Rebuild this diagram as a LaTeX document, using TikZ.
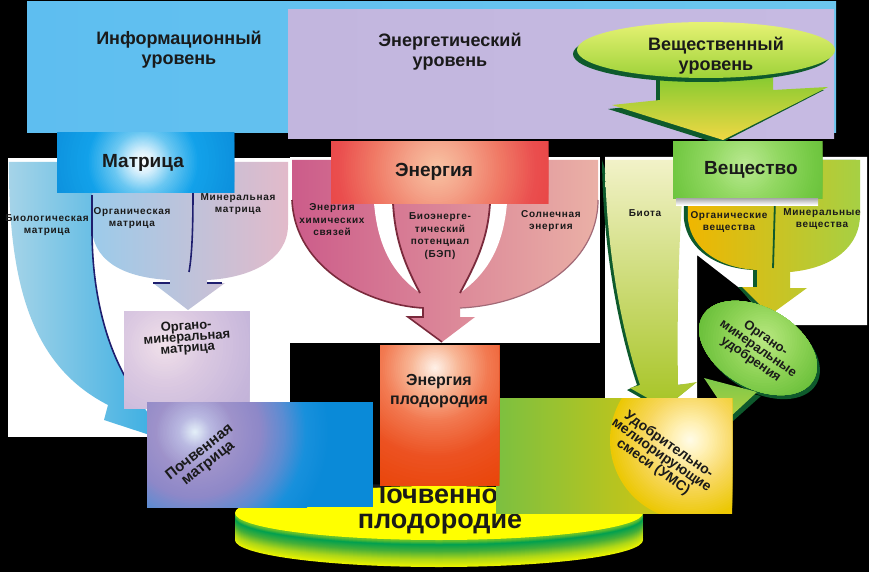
\documentclass[tikz,border=0pt]{standalone}
\usepackage{fontspec}
\setmainfont{Liberation Sans}
\newfontfamily\spacedfont{Liberation Sans}[LetterSpace=7]
\newcommand\fsz[2]{\fontsize{#1}{#2}\selectfont}

\definecolor{topA}{HTML}{5EBEF0}\definecolor{topB}{HTML}{94D4DA}\definecolor{topC}{HTML}{6CC6EE}
\definecolor{purA}{HTML}{C2B6DE}\definecolor{purB}{HTML}{DEC6DC}\definecolor{purC}{HTML}{C6BAE2}
\definecolor{dkg}{HTML}{0E5A2C}
\definecolor{garrA}{HTML}{84CA30}\definecolor{garrB}{HTML}{F0D844}
\definecolor{gellA}{HTML}{E6F274}\definecolor{gellB}{HTML}{9ED238}
\definecolor{navy}{HTML}{1E1E6E}
\definecolor{mbL}{HTML}{9CCBEA}\definecolor{mbM}{HTML}{B4B8E2}\definecolor{mbR}{HTML}{E2BACA}
\definecolor{armL}{HTML}{A6D4E8}\definecolor{armR}{HTML}{34ACE2}
\definecolor{enL}{HTML}{CC5C8A}\definecolor{enM}{HTML}{E3A09A}\definecolor{enR}{HTML}{EAB0A6}
\definecolor{maroon}{HTML}{7A2A3C}
\definecolor{sbL}{HTML}{F0B600}\definecolor{sbM}{HTML}{D4C60C}\definecolor{sbR}{HTML}{A6D044}
\definecolor{biA}{HTML}{F2F2C8}\definecolor{biB}{HTML}{C8C41E}\definecolor{biC}{HTML}{A6C424}
\definecolor{txt}{HTML}{1A1A1A}
\definecolor{mg1}{HTML}{D8F0FC}\definecolor{mg2}{HTML}{6CC8F2}\definecolor{mg3}{HTML}{12A2EA}\definecolor{mg4}{HTML}{0A8AD8}
\definecolor{eg0}{HTML}{F8C4A4}\definecolor{eg1}{HTML}{F4A48A}\definecolor{eg2}{HTML}{F07A66}\definecolor{eg3}{HTML}{EA4E4E}\definecolor{eg4}{HTML}{E84444}
\definecolor{vg0}{HTML}{BCEA94}\definecolor{vg1}{HTML}{92D862}\definecolor{vg2}{HTML}{72C842}\definecolor{vg3}{HTML}{68BE3A}
\definecolor{og0}{HTML}{F2E2EA}\definecolor{og1}{HTML}{DCCAE2}\definecolor{og2}{HTML}{C6B6DA}\definecolor{og3}{HTML}{BAACD6}
\definecolor{ep0}{HTML}{FFF4EC}\definecolor{ep1}{HTML}{F8B898}\definecolor{ep2}{HTML}{F27A52}\definecolor{ep3}{HTML}{EC5222}\definecolor{ep4}{HTML}{E84000}
\definecolor{pm0}{HTML}{E6F2FA}\definecolor{pm1}{HTML}{BABAE2}\definecolor{pm2}{HTML}{9E92CA}\definecolor{pm3}{HTML}{8E88C8}\definecolor{pm4}{HTML}{5C8CD2}\definecolor{pm5}{HTML}{1890DC}\definecolor{pm6}{HTML}{0A8AD8}
\definecolor{ug0}{HTML}{FFFCEA}\definecolor{ug1}{HTML}{FFF0B2}\definecolor{ug2}{HTML}{F8D862}\definecolor{ug3}{HTML}{ECC804}
\definecolor{umL}{HTML}{7CC040}\definecolor{umM}{HTML}{DCC80C}\definecolor{umR}{HTML}{F0C800}
\definecolor{bg0}{HTML}{BCEA84}\definecolor{bg1}{HTML}{8CD254}\definecolor{bg2}{HTML}{5CB830}
\definecolor{tailA}{HTML}{7CC84A}\definecolor{tailB}{HTML}{B0D040}
\definecolor{dA}{HTML}{E8F200}\definecolor{dB}{HTML}{B0D818}\definecolor{dC}{HTML}{48B038}
\definecolor{dE}{HTML}{00A050}\definecolor{dF}{HTML}{70C428}
\definecolor{dTop}{HTML}{FFFF00}

% concentric discs from radius #3 (colour #5) down to radius #4 (colour #6), centre (#1,#2)
\newcommand\glowseg[6]{%
  \foreach \glwI in {0,...,15}{%
    \pgfmathsetmacro\glwR{#3-(#3-#4)*\glwI/16}%
    \pgfmathsetmacro\glwP{100*\glwI/16}%
    \fill[#6!\glwP!#5] (#1,#2) circle (\glwR);%
  }%
}
% bands of the fertility disc, offsets #1 down to #2, colours #3 -> #4
\newcommand\diskseg[4]{%
  \foreach \dkI in {0,...,7}{%
    \pgfmathsetmacro\dkO{#1-(#1-#2)*\dkI/8}%
    \pgfmathsetmacro\dkP{100*\dkI/8}%
    \fill[#4!\dkP!#3] (439,513+\dkO) ellipse [x radius=204, y radius=27];%
  }%
}

\tikzset{
  toplbl/.style={align=center, inner sep=0pt, text=txt, font=\bfseries\fsz{18}{20}},
  catlbl/.style={align=center, inner sep=0pt, text=txt, font=\bfseries\fsz{19}{22}},
  smlbl/.style={align=center, inner sep=0pt, text=txt, font=\spacedfont\bfseries\fsz{10}{12.5}},
  boxlbl/.style={align=center, inner sep=0pt, text=txt, font=\bfseries\fsz{14}{12}},
  baselbl/.style={align=center, inner sep=0pt, text=txt, font=\bfseries\fsz{27}{25}},
}

\begin{document}
\begin{tikzpicture}[x=1pt,y=-1pt]
\useasboundingbox (0,0) rectangle (869,572);
\fill[black] (0,0) rectangle (869,572);

% ---------- top level bars ----------
\shade[left color=topA, middle color=topB, right color=topC] (27,2) rectangle (836,133);
\shade[left color=purA, middle color=purB, right color=purC] (288,10) rectangle (834,139);

% green level arrow
\fill[dkg] (656,79) -- (656,104) -- (608,109) -- (719,144) -- (824,90) -- (769,94) -- (769,79) -- cycle;
\shade[top color=garrA, bottom color=garrB] (660,75) -- (660,100) -- (612,105) -- (723,140) -- (828,87) -- (773,90) -- (773,75) -- cycle;
\fill[dkg] (702,54) ellipse [x radius=129, y radius=28];
\shade[top color=gellA, bottom color=gellB] (706,50) ellipse [x radius=129, y radius=28];

\node[toplbl] (info) at (179,50) {Информационный\\уровень};
\node[toplbl] (energ) at (450,52) {Энергетический\\уровень};
\node[toplbl] (vesch) at (716,56) {Вещественный\\уровень};

% ---------- white grounds ----------
\fill[white] (8,158) rectangle (290,437);
\fill[white] (290,157) rectangle (600,343);
\fill[white] (605,157) -- (867,157) -- (867,325) -- (770,325) -- (742,290) -- (697,255) -- (697,400) -- (605,400) -- cycle;

% ---------- matrix fan ----------
\shade[left color=mbL, middle color=mbM, right color=mbR]
  (92,162) -- (92,230) .. controls (95,265) and (130,278) .. (170,280) -- (170,283) -- (153,283)
  -- (188,310) -- (225,283) -- (207,283) -- (207,280) .. controls (250,278) and (288,260) .. (288,225)
  -- (288,162) -- cycle;
\draw[navy, line width=1.6] (193,190) .. controls (193,230) and (192,255) .. (189,272);
\draw[navy, line width=1.6] (153,283) -- (170,283) (207,283) -- (222,283);
\shade[left color=armL, right color=armR]
  (9,162) .. controls (8,300) and (40,370) .. (108,405) -- (104,420) -- (165,440) -- (130,385)
  .. controls (105,345) and (92,290) .. (92,230) -- (92,162) -- cycle;
\draw[navy, line width=1.6] (92,195) -- (92,230) .. controls (92,290) and (105,345) .. (130,385);

% ---------- energy fan ----------
\shade[left color=enL, middle color=enM, right color=enR]
  (292,160) -- (292,200) .. controls (295,270) and (370,305) .. (423,308) -- (423,317) -- (408,317)
  -- (442,342) -- (475,317) -- (460,317) -- (460,308) .. controls (530,305) and (598,265) .. (598,200)
  -- (598,160) -- cycle;
\draw[maroon, line width=1.6] (292,200) .. controls (295,270) and (370,305) .. (423,308) -- (423,317) -- (408,317) -- (442,342);
\draw[maroon!70, line width=1.2] (460,308) .. controls (530,305) and (598,265) .. (598,200);
\fill[white] (374,203) .. controls (378,250) and (395,275) .. (420,293) .. controls (405,265) and (395,240) .. (393,203) -- cycle;
\draw[maroon, line width=1.8] (393,203) .. controls (395,240) and (405,265) .. (420,293);
\fill[white] (507,203) .. controls (503,250) and (485,275) .. (460,293) .. controls (475,265) and (488,240) .. (490,203) -- cycle;
\draw[maroon, line width=1.8] (490,203) .. controls (488,240) and (475,265) .. (460,293);

% ---------- substance fan ----------
\fill[dkg] (683,160) -- (684,220) .. controls (688,250) and (716,268) .. (753,270) -- (753,287) -- (738,287)
  -- (766,318) -- (803,288) -- (786,288) -- (786,272) .. controls (831,268) and (856,245) .. (856,215) -- (856,160) -- cycle;
\shade[left color=sbL, middle color=sbM, right color=sbR]
  (687,160) -- (688,220) .. controls (692,250) and (720,268) .. (757,270) -- (757,287) -- (742,287)
  -- (770,315) -- (807,288) -- (790,288) -- (790,272) .. controls (835,268) and (860,245) .. (860,215)
  -- (860,160) -- cycle;
\draw[dkg, line width=1.8] (775,200) -- (773,268);
\fill[dkg] (602,160) .. controls (603,260) and (622,340) .. (637,385) -- (627,390) -- (662,410) -- (694,384) -- (675,385) -- cycle;
\shade[top color=biA, middle color=biB, bottom color=biC]
  (605,160) .. controls (606,260) and (625,340) .. (640,385) -- (630,388) -- (665,408) -- (697,382)
  -- (678,385) .. controls (677,330) and (678,260) .. (682,200) -- (682,160) -- cycle;

% blob
\fill[dkg] (707,382) -- (733,421) -- (761,396) -- cycle;
\fill[dkg, rotate around={-30:(761,352)}] (761,352) ellipse [x radius=64, y radius=40];
\shade[top color=tailA, bottom color=tailB] (704,378) -- (730,417) -- (757,392) -- cycle;
\begin{scope}
  \clip[rotate around={-30:(758,348)}] (758,348) ellipse [x radius=64, y radius=40];
  \glowseg{764}{340}{80}{38}{bg2}{bg1}
  \glowseg{764}{340}{38}{0}{bg1}{bg0}
\end{scope}

% ---------- category boxes ----------
\begin{scope}
  \clip (57,133) rectangle (234,192);
  \fill[mg4] (57,133) rectangle (234,192);
  \glowseg{143}{162}{110}{56}{mg4}{mg3}
  \glowseg{143}{162}{56}{30}{mg3}{mg2}
  \glowseg{143}{162}{30}{12}{mg2}{mg1}
  \glowseg{143}{162}{12}{0}{mg1}{white}
\end{scope}
\node[catlbl] (matr) at (143,163) {Матрица};
\begin{scope}
  \clip (331,142) rectangle (548,203);
  \fill[eg4] (331,142) rectangle (548,203);
  \glowseg{437}{168}{125}{100}{eg4}{eg3}
  \glowseg{437}{168}{100}{64}{eg3}{eg2}
  \glowseg{437}{168}{64}{30}{eg2}{eg1}
  \glowseg{437}{168}{30}{0}{eg1}{eg0}
\end{scope}
\node[catlbl] (enrg) at (434,172) {Энергия};
\begin{scope}
  \clip (673,142) rectangle (822,198);
  \fill[vg3] (673,142) rectangle (822,198);
  \glowseg{745}{165}{90}{72}{vg3}{vg2}
  \glowseg{745}{165}{72}{36}{vg2}{vg1}
  \glowseg{745}{165}{36}{0}{vg1}{vg0}
\end{scope}
\shade[top color=gray!70, bottom color=white] (676,198) rectangle (818,205);
\node[catlbl] (vesh) at (751,170) {Вещество};

% ---------- small labels ----------
\node[smlbl] (bio) at (47,225) {Биологическая\\матрица};
\node[smlbl] (org) at (132,218) {Органическая\\матрица};
\node[smlbl] (min) at (238,204) {Минеральная\\матрица};
\node[smlbl] (chem) at (332,220) {Энергия\\химических\\связей};
\node[smlbl] (bep) at (440,236) {Биоэнерге-\\тический\\потенциал\\(БЭП)};
\node[smlbl] (sun) at (551,221) {Солнечная\\энергия};
\node[smlbl] (biota) at (645,213) {Биота};
\node[smlbl] (orgv) at (729,222) {Органические\\вещества};
\node[smlbl] (minv) at (822,219) {Минеральные\\вещества};

\node[boxlbl, font=\bfseries\fsz{13}{13}, rotate=-35] (omu) at (758,349) {Органо-\\минеральные\\удобрения};

% ---------- soil fertility disc ----------
\diskseg{27}{20}{dA}{dB}
\diskseg{20}{12}{dB}{dC}
\diskseg{12}{5}{dC}{dE}
\diskseg{5}{1}{dE}{dF}
\fill[dTop] (439,513) ellipse [x radius=204, y radius=27];
\node[baselbl] (plod) at (440,510) {Почвенное\\плодородие};

% ---------- lower boxes ----------
\begin{scope}
  \clip (124,311) rectangle (249,408);
  \fill[og3] (124,311) rectangle (249,408);
  \glowseg{165}{345}{130}{91}{og3}{og2}
  \glowseg{165}{345}{91}{39}{og2}{og1}
  \glowseg{165}{345}{39}{0}{og1}{og0}
\end{scope}
\node[boxlbl, font=\bfseries\fsz{13}{11}, rotate=4] (omm) at (187,338) {Органо-\\минеральная\\матрица};

\begin{scope}
  \clip (147,402) rectangle (373,507);
  \fill[pm6] (147,402) rectangle (373,507);
  \glowseg{195}{432}{135}{112}{pm6}{pm5}
  \glowseg{195}{432}{112}{90}{pm5}{pm4}
  \glowseg{195}{432}{90}{66}{pm4}{pm3}
  \glowseg{195}{432}{66}{40}{pm3}{pm2}
  \glowseg{195}{432}{40}{16}{pm2}{pm1}
  \glowseg{195}{432}{16}{0}{pm1}{pm0}
\end{scope}
\node[boxlbl, font=\bfseries\fsz{15}{14}, rotate=38] (pm) at (204,458) {Почвенная\\матрица};

\begin{scope}
  \clip (496,398) rectangle (732,513);
  \shade[left color=umL, middle color=umM, right color=umR] (496,398) rectangle (732,513);
  \glowseg{690}{440}{80}{45}{ug3}{ug2}
  \glowseg{690}{440}{45}{19}{ug2}{ug1}
  \glowseg{690}{440}{19}{0}{ug1}{ug0}
\end{scope}
\node[boxlbl, font=\bfseries\fsz{14}{13}, rotate=-35] (ums) at (661,456) {Удобрительно-\\мелиорирующие\\смеси (УМС)};

\begin{scope}
  \clip (380,345) rectangle (499,485);
  \fill[ep4] (380,345) rectangle (499,485);
  \glowseg{435}{368}{150}{90}{ep4}{ep3}
  \glowseg{435}{368}{90}{54}{ep3}{ep2}
  \glowseg{435}{368}{54}{24}{ep2}{ep1}
  \glowseg{435}{368}{24}{0}{ep1}{ep0}
\end{scope}
\node[boxlbl, font=\bfseries\fsz{16}{19}] (ep) at (439,391) {Энергия\\плодородия};

\end{tikzpicture}
\end{document}
